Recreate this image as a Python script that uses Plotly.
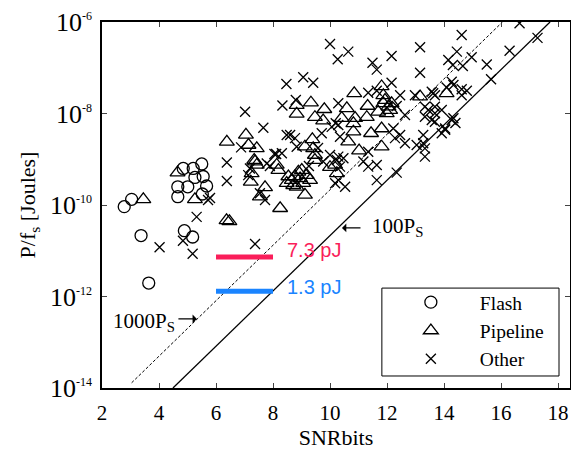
import plotly.graph_objects as go

# ---------------- data ----------------
flash_x = [2.78, 3.04, 4.85, 5.20, 5.50, 5.26, 5.55, 4.66, 5.01, 5.67, 4.66, 5.52, 3.37, 4.89, 5.18, 3.64]
flash_y = [9.2e-11, 1.33e-10, 6.3e-10, 6.3e-10, 7.9e-10, 4.0e-10, 4.2e-10, 2.5e-10, 2.5e-10, 2.6e-10,
           1.52e-10, 1.74e-10, 2.15e-11, 2.74e-11, 2.0e-11, 1.97e-12]

pipeline_x = [3.45, 4.65, 5.26, 6.37, 6.47, 6.38, 7.05, 7.14, 7.43, 7.37, 7.25, 7.22, 7.72, 7.54, 8.25,
              8.13, 8.19, 9.33, 8.83, 8.83, 9.80, 9.47, 9.76, 9.38, 9.12, 9.41, 7.34, 7.43, 9.12, 10.0,
              9.47, 10.24, 8.48, 8.66, 8.77, 8.89, 8.95, 9.06, 9.18, 9.30, 8.71, 9.01, 8.54, 8.83,
              10.85, 11.81, 11.87, 11.32, 10.59, 13.16, 14.09, 11.93, 12.05, 12.11, 11.99, 11.87, 12.16,
              11.69, 10.88, 11.29, 10.41, 10.82, 10.82, 11.44, 11.81, 11.81, 11.02, 10.64, 9.47, 10.18]
pipeline_y = [1.33e-10, 5.1e-10, 1.33e-10, 4.6e-11, 4.4e-11, 2.4e-9, 3.4e-9, 2.05e-9, 1.73e-9, 8.9e-10,
              4.9e-10, 3.2e-10, 2.44e-10, 1.52e-10, 8.5e-11, 7.5e-10, 5.8e-10, 1.72e-8, 1.53e-8, 9.8e-9,
              1.24e-8, 8.3e-9, 7.0e-9, 2.73e-9, 1.88e-9, 1.73e-9, 9.6e-10, 7.5e-10, 1.66e-10, 6.7e-10,
              9.6e-10, 4.9e-10, 3.0e-10, 3.5e-10, 4.2e-10, 5.3e-10, 3.8e-10, 3.0e-10, 4.5e-10, 3.5e-10,
              2.7e-10, 5.8e-10, 4.2e-10, 2.5e-10, 2.76e-8, 3.9e-8, 2.5e-8, 1.46e-8, 1.3e-8, 2.33e-8,
              2.76e-8, 1.97e-8, 1.41e-8, 1.19e-8, 1.01e-8, 1.67e-8, 1.67e-8, 1.09e-8, 7.9e-9, 8.3e-9,
              7.9e-9, 6.1e-9, 4.0e-9, 3.7e-9, 4.7e-9, 1.88e-9, 1.54e-9, 2.42e-9, 1.24e-9, 7.5e-10]

other_x = [6.38, 6.38, 5.72, 5.79, 5.32, 4.02, 4.84, 5.18, 7.37,
           7.02, 7.66, 8.47, 8.33, 8.48, 8.11, 7.78, 7.72,
           10.0, 10.27, 9.06, 9.41, 8.80, 10.29, 10.2, 8.6, 8.77, 9.71, 10.35, 10.06,
           6.88, 8.05, 8.31, 8.83, 7.89, 10.0, 10.24, 9.76, 10.35, 7.19, 7.54, 7.13, 10.18,
           10.64, 12.16, 13.16, 11.49, 11.64, 13.16, 14.15, 14.31, 12.16, 11.34, 11.64, 12.46, 12.98,
           13.57, 13.68, 14.27, 14.33,
           12.34, 12.63, 13.33, 13.45, 13.92, 13.33, 13.57, 13.68, 13.68, 10.29, 14.27, 14.04,
           10.29, 10.47, 10.53, 10.29, 11.34, 11.17, 11.64, 11.34, 12.28, 12.46, 12.22, 12.63, 12.34,
           11.64, 13.27, 13.33, 13.04, 13.33, 13.92, 14.04, 13.68,
           14.62, 14.45, 14.66, 14.97, 15.5, 16.3, 16.65, 17.28, 15.65, 14.62, 14.8, 14.09, 13.62,
           14.33, 13.27, 14.62, 14.4, 9.58, 9.26]
other_y = [8.5e-10, 3.35e-10, 1.29e-10, 1.42e-10, 5.5e-11, 1.19e-11, 1.66e-11, 8.6e-12, 1.41e-11,
           1.09e-8, 4.9e-9, 4.4e-8, 1.5e-8, 3.4e-9, 1.3e-9, 8.1e-10, 1.29e-10,
           3.3e-7, 1.53e-7, 6.2e-8, 4.7e-8, 1.97e-8, 1.67e-8, 6.1e-9, 3.4e-9, 2.9e-9, 3.7e-9, 3.1e-9, 5.1e-9,
           1.82e-9, 1.3e-9, 1.35e-9, 1.88e-9, 7.1e-10, 1.24e-9, 9.6e-10, 8.9e-10, 6.9e-10, 6.3e-10,
           1.8e-10, 4.5e-10, 3.0e-10,
           2.25e-7, 1.8e-7, 2.8e-7, 1.29e-7, 9.1e-8, 7.8e-8, 1.48e-7, 1.15e-7, 4.7e-8, 2.85e-8, 3.15e-8,
           2.5e-8, 2.5e-8, 3.0e-8, 2.5e-8, 4.95e-8, 4.2e-8,
           1.46e-8, 9.3e-9, 1.41e-8, 1.19e-8, 1.19e-8, 8.5e-9, 7.2e-9, 1.01e-8, 1.41e-8, 5.6e-9, 7.2e-9, 4.7e-9,
           1.14e-9, 1.05e-9, 2.5e-10, 3.5e-10, 1.46e-9, 8.9e-10, 7.5e-10, 6.9e-10, 2.9e-9, 3.4e-9, 4.7e-9,
           2.23e-9, 5.1e-10, 3.5e-10, 3.4e-9, 1.73e-9, 2.05e-9, 1.14e-9, 3.7e-9, 4.4e-9, 6.6e-9,
           5.2e-7, 2.25e-7, 1.09e-7, 1.69e-7, 1.18e-7, 2.36e-7, 9.4e-7, 4.5e-7, 5.6e-8, 3.4e-8, 3.15e-8,
           3.7e-8, 2.76e-8, 7.9e-9, 2.23e-9, 2.5e-8, 6.2e-9, 1.76e-9, 7.1e-10]

# reference lines (100 Ps solid, 1000 Ps dashed)
ps100_x = [4.49, 17.72]
ps100_y = [1e-14, 1e-6]
ps1000_x = [3.04, 16.05]
ps1000_y = [1.3e-14, 1e-6]

# energy markers
energy_x = [6, 8]
energy_red = 7.3e-12
energy_blue = 1.3e-12

x_ticks = [2, 4, 6, 8, 10, 12, 14, 16, 18]
y_ticks = [1e-14, 1e-12, 1e-10, 1e-8, 1e-6]
y_exponents = ["-14", "-12", "-10", "-8", "-6"]

SERIF = "Liberation Serif"
SANS = "Liberation Sans"
RED = "#fa1e5a"
BLUE = "#1a84ff"

y_ticktext = ["10<sup><span style='font-size:12px'>%s</span></sup>" % e for e in y_exponents]

fig = go.Figure()

fig.add_trace(go.Scatter(x=ps1000_x, y=ps1000_y, mode="lines", showlegend=False,
                         line=dict(color="black", width=1, dash="3px,2px")))
fig.add_trace(go.Scatter(x=ps100_x, y=ps100_y, mode="lines", showlegend=False,
                         line=dict(color="black", width=1.3)))

fig.add_trace(go.Scatter(x=flash_x, y=flash_y, mode="markers", name="Flash",
                         marker=dict(symbol="circle-open", size=12, color="black",
                                     line=dict(width=1.3, color="black"))))
fig.add_trace(go.Scatter(x=pipeline_x, y=pipeline_y, mode="markers", name="Pipeline",
                         marker=dict(symbol="triangle-up-open", size=13, color="black",
                                     line=dict(width=1.3, color="black"))))
fig.add_trace(go.Scatter(x=other_x, y=other_y, mode="markers", name="Other",
                         marker=dict(symbol="x-thin-open", size=10, color="black",
                                     line=dict(width=1.3, color="black"))))

fig.add_trace(go.Scatter(x=energy_x, y=[energy_red] * len(energy_x), mode="lines", showlegend=False,
                         line=dict(color=RED, width=5)))
fig.add_trace(go.Scatter(x=energy_x, y=[energy_blue] * len(energy_x), mode="lines", showlegend=False,
                         line=dict(color=BLUE, width=5)))

fig.add_annotation(x=8.42, y=-10.98, xref="x", yref="y", text="7.3 pJ", showarrow=False,
                   xanchor="left", yanchor="middle", font=dict(family=SANS, size=20, color=RED))
fig.add_annotation(x=8.42, y=-11.79, xref="x", yref="y", text="1.3 pJ", showarrow=False,
                   xanchor="left", yanchor="middle", font=dict(family=SANS, size=20, color=BLUE))

# 100 Ps label with arrow
fig.add_annotation(x=11.40, y=-10.47, xref="x", yref="y", text="100P<sub>S</sub>", showarrow=False,
                   xanchor="left", yanchor="middle", font=dict(family=SERIF, size=21, color="black"))
fig.add_annotation(x=10.42, y=-10.50, xref="x", yref="y", text="", showarrow=True,
                   ax=20, ay=0, arrowhead=1, arrowsize=1.2, arrowwidth=1.2, arrowcolor="black")
# 1000 Ps label with arrow
fig.add_annotation(x=4.63, y=-12.56, xref="x", yref="y", text="1000P<sub>S</sub>", showarrow=False,
                   xanchor="right", yanchor="middle", font=dict(family=SERIF, size=21, color="black"))
fig.add_annotation(x=5.33, y=-12.49, xref="x", yref="y", text="", showarrow=True,
                   ax=-20, ay=0, arrowhead=1, arrowsize=1.2, arrowwidth=1.2, arrowcolor="black")

# legend frame
fig.add_shape(type="rect", xref="paper", yref="paper", x0=0.598, x1=0.9765, y0=0.0328, y1=0.273,
              line=dict(color="black", width=1), fillcolor="white", layer="below")

fig.update_layout(
    width=571, height=450,
    margin=dict(l=102, r=1, t=22, b=62),
    paper_bgcolor="white", plot_bgcolor="white",
    font=dict(family=SERIF, size=21, color="black"),
    showlegend=True,
    legend=dict(x=0.598, y=0.287, xanchor="left", yanchor="top",
                borderwidth=0, bgcolor="rgba(0,0,0,0)",
                font=dict(family=SERIF, size=19.5), itemwidth=88),
    xaxis=dict(range=[2, 18.42], tickvals=x_ticks, ticks="inside", ticklen=5,
               showline=True, linecolor="black", linewidth=1.5, mirror="ticks",
               showgrid=False, zeroline=False, automargin=False, ticklabelstandoff=5,
               tickfont=dict(family=SERIF, size=21),
               title=dict(text="SNRbits", font=dict(family=SERIF, size=22), standoff=10)),
    yaxis=dict(type="log", range=[-14, -6], tickvals=y_ticks, ticktext=y_ticktext,
               ticks="inside", ticklen=5, showline=True, linecolor="black", linewidth=1.5,
               mirror="ticks", showgrid=False, zeroline=False, automargin=False,
               ticklabelstandoff=3,
               tickfont=dict(family=SERIF, size=26),
               title=dict(text="P/f<sub>s</sub> [Joules]", font=dict(family=SERIF, size=22), standoff=8)),
)

fig.write_html("out.html", config={"displayModeBar": False},
               post_script="document.body.style.margin='0';")
